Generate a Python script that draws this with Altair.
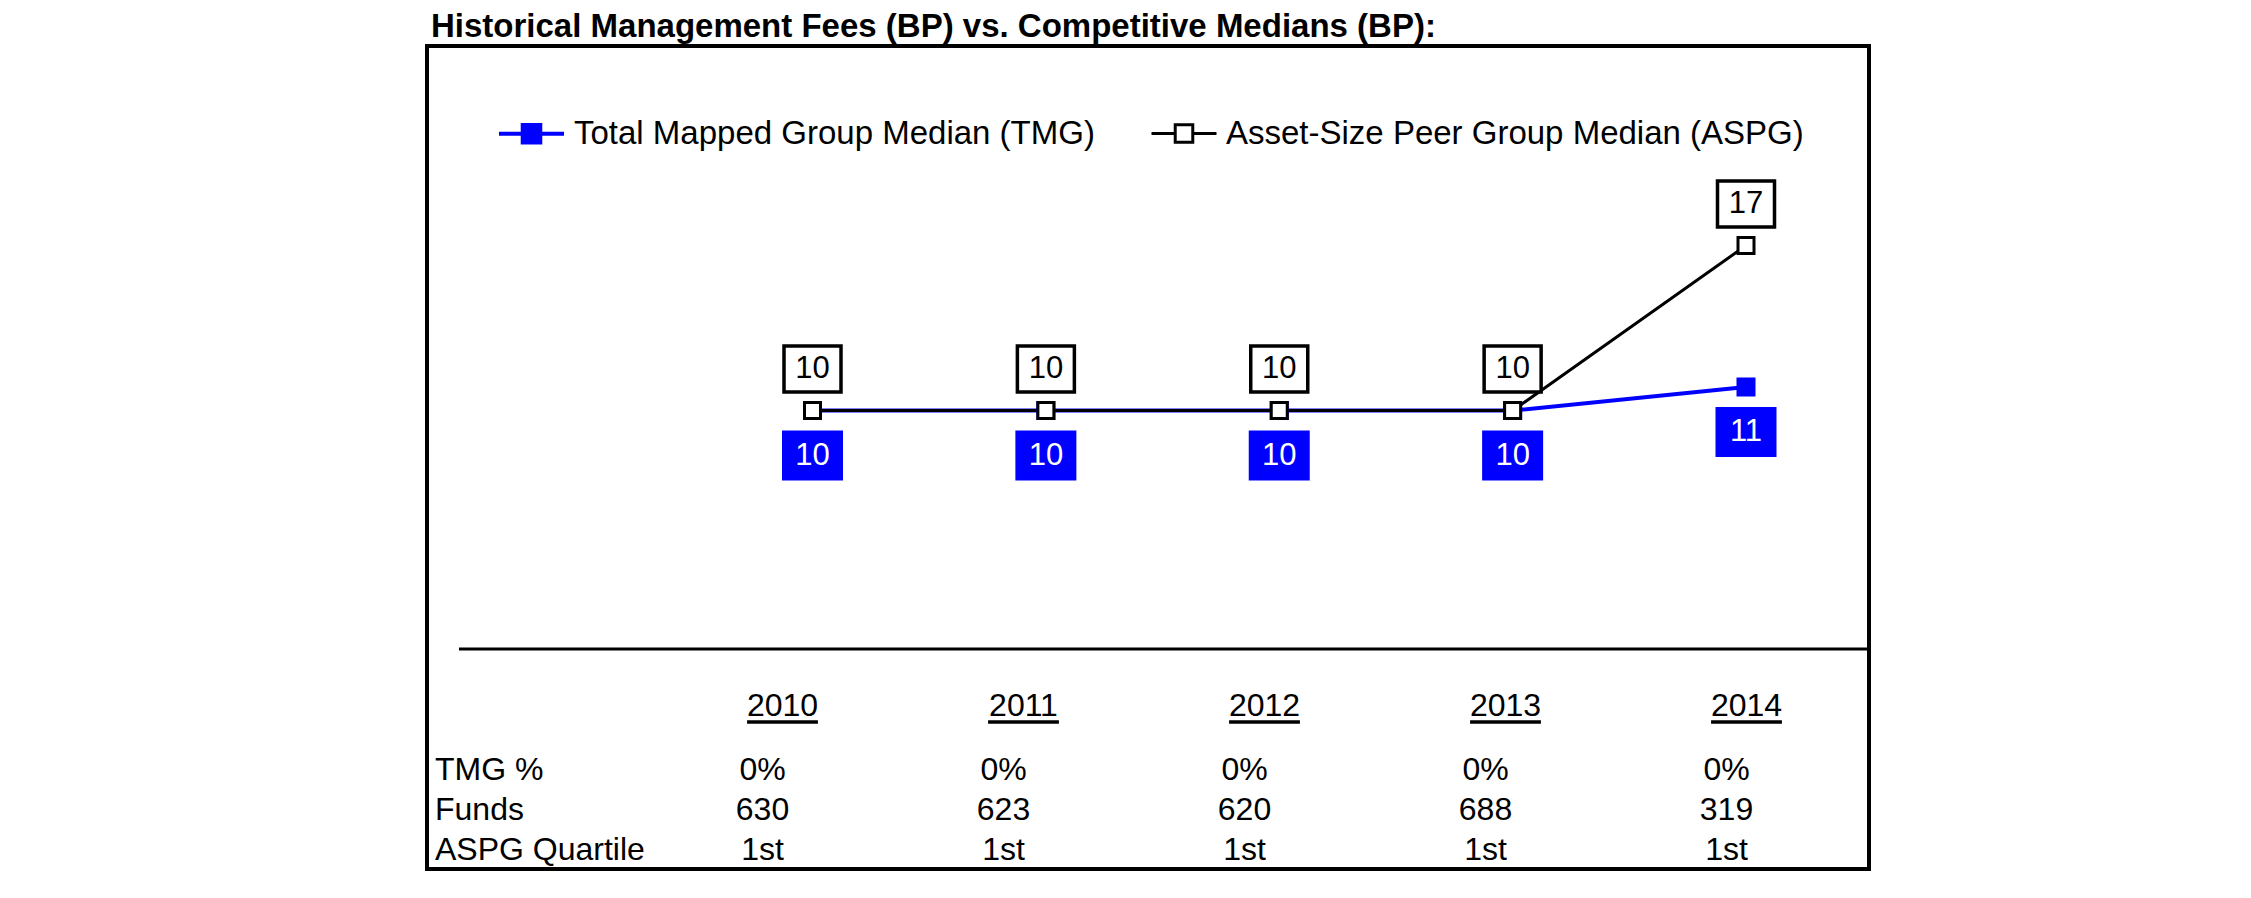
import altair as alt
import pandas as pd

# ---------------- data ----------------
years = [2010, 2011, 2012, 2013, 2014]
tmg_values = [10, 10, 10, 10, 11]
aspg_values = [10, 10, 10, 10, 17]
series_names = ["Total Mapped Group Median (TMG)", "Asset-Size Peer Group Median (ASPG)"]
row_labels = ["TMG %", "Funds", "ASPG Quartile"]
tmg_pct = ["0%", "0%", "0%", "0%", "0%"]
funds = [630, 623, 620, 688, 319]
aspg_quartile = ["1st", "1st", "1st", "1st", "1st"]
title_text = "Historical Management Fees (BP) vs. Competitive Medians (BP):"

# ---------------- tables built from the arrays ----------------
series_df = pd.DataFrame(
    {"year": years * 2,
     "value": tmg_values + aspg_values,
     "series": [series_names[0]] * len(years) + [series_names[1]] * len(years),
     "label": [str(v) for v in tmg_values + aspg_values]}
)
years_df = pd.DataFrame({"year": years, "label": [str(y) for y in years]})
rows_df = pd.DataFrame({"row": [1, 2, 3], "label": row_labels})
table_df = pd.DataFrame(
    {"year": years * 3,
     "row": [1] * 5 + [2] * 5 + [3] * 5,
     "text": tmg_pct + [str(f) for f in funds] + aspg_quartile}
)
one = pd.DataFrame({"k": [0]})

FONT = "Liberation Sans"
BLUE = "#0000FF"

X_DATA = alt.Scale(domain=[2010, 2014], range=[385.5, 1319])
Y_DATA = alt.Scale(domain=[10, 17], range=[364.6, 199.5])
X_TAB = alt.Scale(domain=[2010, 2014], range=[335.5, 1299.5])
Y_TAB = alt.Scale(domain=[1, 3], range=[723.5, 804])

LEG_PATH = "M-1,0H-0.27M0.27,0H1M-0.27,-0.27H0.27V0.27H-0.27Z"
legend = alt.Legend(
    title=None, orient="none", legendX=70, legendY=53, direction="horizontal",
    symbolType=LEG_PATH, symbolSize=4225, symbolStrokeWidth=3,
    labelFont=FONT, labelFontSize=33, labelColor="black", labelOffset=8,
    columnPadding=50, padding=0, labelLimit=1200,
)
color_enc = alt.Color("series:N", scale=alt.Scale(domain=series_names, range=[BLUE, "black"]), legend=legend)
fill_enc = alt.Fill("series:N", scale=alt.Scale(domain=series_names, range=[BLUE, "white"]), legend=legend)

x_d = alt.X("year:Q", scale=X_DATA, axis=None)
y_d = alt.Y("value:Q", scale=Y_DATA, axis=None)

lines = alt.Chart(series_df).mark_line().encode(
    x=x_d, y=y_d, color=color_enc,
    strokeWidth=alt.StrokeWidth("series:N", scale=alt.Scale(domain=series_names, range=[4, 3]), legend=None),
)

points = alt.Chart(series_df).mark_point(shape="square", size=256, strokeWidth=3, opacity=1, filled=False).encode(
    x=x_d, y=y_d, color=color_enc, fill=fill_enc,
)

aspg_only = alt.datum.series == series_names[1]
tmg_only = alt.datum.series == series_names[0]

aspg_box = alt.Chart(series_df).transform_filter(aspg_only).mark_point(
    shape="M-1,-0.807H1V0.807H-1Z", size=3249, filled=True, fill="white", stroke="black",
    strokeWidth=3.5, opacity=1, yOffset=-41.6,
).encode(x=x_d, y=y_d)
aspg_txt = alt.Chart(series_df).transform_filter(aspg_only).mark_text(
    font=FONT, fontSize=31, color="black", baseline="middle", align="center", dy=-41.6,
).encode(x=x_d, y=y_d, text="label:N")

tmg_box = alt.Chart(series_df).transform_filter(tmg_only).mark_point(
    shape="M-1,-0.82H1V0.82H-1Z", size=3721, filled=True, fill=BLUE, strokeWidth=0,
    opacity=1, yOffset=45,
).encode(x=x_d, y=y_d)
tmg_txt = alt.Chart(series_df).transform_filter(tmg_only).mark_text(
    font=FONT, fontSize=31, color="white", baseline="middle", align="center", dy=45,
).encode(x=x_d, y=y_d, text="label:N")

separator = alt.Chart(one).mark_rule(color="black", strokeWidth=3).encode(
    x=alt.value(32), x2=alt.value(1442), y=alt.value(603)
)

x_t = alt.X("year:Q", scale=X_TAB, axis=None)
year_hdr = alt.Chart(years_df).mark_text(
    font=FONT, fontSize=32, color="black", baseline="middle", align="center", dx=20,
).encode(x=x_t, y=alt.value(660), text="label:N")
underline = alt.Chart(years_df).transform_calculate(
    xa="datum.year - 0.147", xb="datum.year + 0.147"
).mark_rule(color="black", strokeWidth=3.5, xOffset=20, x2Offset=20).encode(
    x=alt.X("xa:Q", scale=X_TAB, axis=None), x2="xb:Q", y=alt.value(676)
)
row_txt = alt.Chart(rows_df).mark_text(
    font=FONT, fontSize=32, color="black", baseline="middle", align="left",
).encode(x=alt.value(8), y=alt.Y("row:Q", scale=Y_TAB, axis=None), text="label:N")
val_txt = alt.Chart(table_df).mark_text(
    font=FONT, fontSize=32, color="black", baseline="middle", align="center",
).encode(x=x_t, y=alt.Y("row:Q", scale=Y_TAB, axis=None), text="text:N")

chart = alt.layer(
    lines, points, aspg_box, aspg_txt, tmg_box, tmg_txt,
    separator, year_hdr, underline, row_txt, val_txt,
).resolve_scale(x="independent", y="independent").properties(
    width=1442, height=823,
    autosize="none",
    background="white",
    padding={"left": 419, "top": 38, "right": 360, "bottom": 20},
    title=alt.TitleParams(
        text=title_text, anchor="start", frame="group", font=FONT, fontSize=33,
        fontWeight="bold", color="black", dx=4, dy=26, offset=2, baseline="alphabetic",
    ),
).configure_view(stroke="black", strokeWidth=4)

chart.save("out.html", embed_options={"renderer": "svg", "actions": False})
